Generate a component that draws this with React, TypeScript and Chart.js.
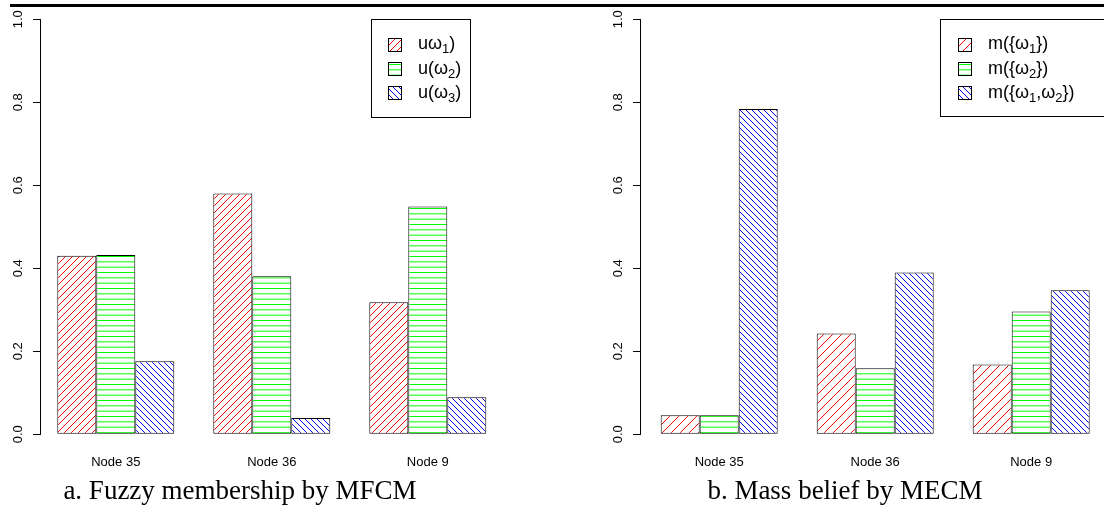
import React, { useEffect, useRef } from "react";
import { Chart, registerables } from "chart.js";

Chart.register(...registerables);

// ---------- data ----------
const NODES = ["Node 35", "Node 36", "Node 9"];
const Y_TICKS = [0, 0.2, 0.4, 0.6, 0.8, 1.0];

const A_LABELS = ["uω₁)", "u(ω₂)", "u(ω₃)"];
const A_W1 = [0.43, 0.58, 0.318];
const A_W2 = [0.432, 0.381, 0.549];
const A_W3 = [0.176, 0.039, 0.089];
const A_CAPTION = "a. Fuzzy membership by MFCM";

const B_LABELS = ["m({ω₁})", "m({ω₂})", "m({ω₁,ω₂})"];
const B_W1 = [0.046, 0.243, 0.168];
const B_W2 = [0.046, 0.159, 0.296];
const B_W12 = [0.784, 0.39, 0.347];
const B_CAPTION = "b. Mass belief by MECM";

// ---------- helpers ----------
const SUB = "₀₁₂₃₄₅₆₇₈₉";
const SANS = '"Liberation Sans", Arial, Helvetica, sans-serif';

function hatch(kind: string, color: string, s: number): CanvasPattern {
  const c = document.createElement("canvas");
  if (kind === "h") {
    c.width = 8;
    c.height = 16;
    const g = c.getContext("2d")!;
    g.fillStyle = "#fff";
    g.fillRect(0, 0, 8, 16);
    g.fillStyle = color;
    g.fillRect(0, 0, 8, 1);
    g.fillRect(0, 5.33, 8, 1);
    g.fillRect(0, 10.67, 8, 1);
    return g.createPattern(c, "repeat")!;
  }
  c.width = s;
  c.height = s;
  const g = c.getContext("2d")!;
  g.fillStyle = "#fff";
  g.fillRect(0, 0, s, s);
  g.strokeStyle = color;
  g.lineWidth = 1;
  g.beginPath();
  if (kind === "/") {
    g.moveTo(0, s); g.lineTo(s, 0);
    g.moveTo(-1, 1); g.lineTo(1, -1);
    g.moveTo(s - 1, s + 1); g.lineTo(s + 1, s - 1);
  } else {
    g.moveTo(0, 0); g.lineTo(s, s);
    g.moveTo(-1, s - 1); g.lineTo(1, s + 1);
    g.moveTo(s - 1, -1); g.lineTo(s + 1, 1);
  }
  g.stroke();
  return g.createPattern(c, "repeat")!;
}

function drawRich(ctx: CanvasRenderingContext2D, text: string, x: number, y: number, size: number) {
  let cx = x;
  ctx.textAlign = "left";
  ctx.textBaseline = "middle";
  ctx.fillStyle = "#000";
  for (const ch of text) {
    const k = SUB.indexOf(ch);
    if (k >= 0) {
      ctx.font = `${Math.round(size * 0.72)}px ${SANS}`;
      const t = String(k);
      ctx.fillText(t, cx, y + size * 0.3);
      cx += ctx.measureText(t).width;
    } else {
      ctx.font = `${size}px ${SANS}`;
      ctx.fillText(ch, cx, y);
      cx += ctx.measureText(ch).width;
    }
  }
}

function legendPlugin(box: { x: number; y: number; w: number; h: number; sx: number; tx: number; rows: number[] }, labels: string[]) {
  return {
    id: "hatchLegend",
    afterDraw(chart: any) {
      const ctx: CanvasRenderingContext2D = chart.ctx;
      ctx.save();
      ctx.fillStyle = "#fff";
      ctx.fillRect(box.x, box.y, box.w, box.h);
      ctx.strokeStyle = "#000";
      ctx.lineWidth = 1;
      ctx.strokeRect(Math.round(box.x) + 0.5, Math.round(box.y) + 0.5, box.w, box.h);
      labels.forEach((lab, i) => {
        const ds = chart.data.datasets[i];
        const y = box.rows[i];
        ctx.fillStyle = ds.backgroundColor;
        ctx.fillRect(box.sx, Math.round(y - 6.5), 13, 13);
        ctx.strokeStyle = "#000";
        ctx.strokeRect(box.sx + 0.5, Math.round(y - 6.5) + 0.5, 13, 13);
        drawRich(ctx, lab, box.tx, y, 18);
      });
      ctx.restore();
    },
  };
}

function makeOptions(xmin: number, xmax: number, height: number) {
  const font = { family: SANS, size: 13 };
  return {
    responsive: false,
    animation: false,
    devicePixelRatio: 1,
    layout: { padding: { top: 19.3, left: 0, right: 0, bottom: 0 } },
    plugins: { legend: { display: false }, tooltip: { enabled: false } },
    datasets: {
      bar: {
        categoryPercentage: 0.75,
        barPercentage: 1,
        borderWidth: 1,
        borderColor: "#000",
        borderSkipped: false,
      },
    },
    scales: {
      x: {
        type: "linear",
        min: xmin,
        max: xmax,
        offset: false,
        grid: { display: false, drawTicks: false, offset: false },
        border: { display: false },
        afterBuildTicks: (s: any) => {
          s.ticks = NODES.map((_, i) => ({ value: i }));
        },
        afterFit: (s: any) => {
          s.height = height - 434.3;
        },
        ticks: {
          autoSkip: false,
          minRotation: 0,
          maxRotation: 0,
          padding: 20,
          color: "#000",
          font,
          callback: (v: number) => NODES[v] ?? "",
        },
      },
      y: {
        min: 0,
        max: 1,
        afterBuildTicks: (s: any) => {
          s.ticks = Y_TICKS.map((v) => ({ value: v }));
        },
        afterFit: (s: any) => {
          s.width = 40;
        },
        grid: { drawOnChartArea: false, drawTicks: true, tickLength: 7, color: "#000" },
        border: { display: true, color: "#000", width: 1 },
        ticks: {
          minRotation: 90,
          maxRotation: 90,
          crossAlign: "center",
          padding: 6,
          color: "#000",
          font,
          callback: (v: number) => v.toFixed(1),
        },
      },
    },
  };
}

function toXY(arr: number[]) {
  return arr.map((v, i) => ({ x: i, y: v }));
}

export default function App() {
  const refA = useRef<HTMLCanvasElement>(null);
  const refB = useRef<HTMLCanvasElement>(null);

  useEffect(() => {
    const H = 480;
    const a = new Chart(refA.current!, {
      type: "bar",
      data: {
        datasets: [
          { label: A_LABELS[0], data: toXY(A_W1), backgroundColor: hatch("/", "#ff0000", 7) },
          { label: A_LABELS[1], data: toXY(A_W2), backgroundColor: hatch("h", "#00ff00", 0) },
          { label: A_LABELS[2], data: toXY(A_W3), backgroundColor: hatch("\\", "#0000ff", 6) },
        ],
      },
      options: makeOptions(-0.4859, 2.5013, H) as any,
      plugins: [legendPlugin({ x: 371, y: 19, w: 99, h: 98, sx: 388, tx: 418, rows: [44.5, 68.7, 92.8] }, A_LABELS)],
    });
    const b = new Chart(refB.current!, {
      type: "bar",
      data: {
        datasets: [
          { label: B_LABELS[0], data: toXY(B_W1), backgroundColor: hatch("/", "#ff0000", 9) },
          { label: B_LABELS[1], data: toXY(B_W2), backgroundColor: hatch("h", "#00ff00", 0) },
          { label: B_LABELS[2], data: toXY(B_W12), backgroundColor: hatch("\\", "#0000ff", 6) },
        ],
      },
      options: makeOptions(-0.5077, 2.4667, H) as any,
      plugins: [legendPlugin({ x: 340, y: 19, w: 200, h: 97, sx: 358, tx: 388, rows: [44.5, 68.7, 92.8] }, B_LABELS)],
    });
    return () => {
      a.destroy();
      b.destroy();
    };
  }, []);

  const cap: React.CSSProperties = {
    position: "absolute",
    top: 475,
    width: 440,
    textAlign: "center",
    font: '27px "Liberation Serif", "Times New Roman", serif',
    lineHeight: "30px",
    color: "#000",
    whiteSpace: "nowrap",
  };

  return (
    <div style={{ position: "absolute", left: 0, top: 0, width: 1104, height: 512, background: "#fff", overflow: "hidden" }}>
      <div style={{ position: "absolute", left: 10, top: 4, width: 1094, height: 3, background: "#000" }} />
      <canvas ref={refA} width={506} height={480} style={{ position: "absolute", left: 0, top: 0 }} />
      <canvas ref={refB} width={504} height={480} style={{ position: "absolute", left: 600, top: 0 }} />
      <div style={{ ...cap, left: 240 - 220 }}>{A_CAPTION}</div>
      <div style={{ ...cap, left: 845 - 220 }}>{B_CAPTION}</div>
    </div>
  );
}
